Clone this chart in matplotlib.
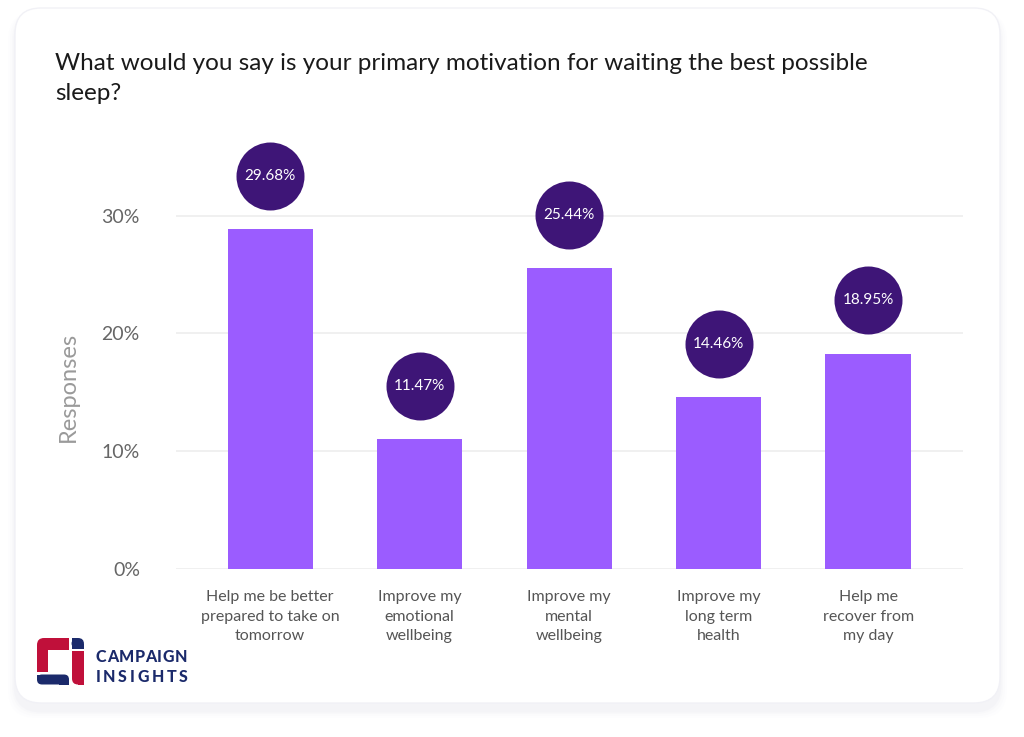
import matplotlib
matplotlib.use("Agg")
import matplotlib.pyplot as plt
import numpy as np
from matplotlib.patches import FancyBboxPatch, Rectangle
from matplotlib.transforms import ScaledTranslation

# ---------------- data ----------------
categories = [
    "Help me be better\nprepared to take on\ntomorrow",
    "Improve my\nemotional\nwellbeing",
    "Improve my\nmental\nwellbeing",
    "Improve my\nlong term\nhealth",
    "Help me\nrecover from\nmy day",
]
bar_values = [28.84, 11.03, 25.55, 14.60, 18.29]       # bar heights as drawn (%)
value_labels = ["29.68%", "11.47%", "25.44%", "14.46%", "18.95%"]
yticks = [0, 10, 20, 30]
ytick_labels = ["0%", "10%", "20%", "30%"]
title = "What would you say is your primary motivation for waiting the best possible\nsleep?"
ylabel = "Responses"

# ---------------- style ----------------
BAR = "#9B5CFF"
BUBBLE = "#3E1577"
FONT = "Lato"
W, H = 1024, 737
DPI = 100

fig = plt.figure(figsize=(W / DPI, H / DPI), dpi=DPI)
fig.patch.set_facecolor("white")

# background / card / logo layer in pixel coordinates
bg = fig.add_axes([0, 0, 1, 1], zorder=0)
bg.set_xlim(0, W)
bg.set_ylim(H, 0)
bg.axis("off")

# soft shadow
for grow, alpha in [(14, 0.025), (10, 0.035), (6, 0.05), (3, 0.07)]:
    bg.add_patch(FancyBboxPatch((15 - grow / 2, 12), 985 + grow, 699 + grow / 2,
                                boxstyle="round,pad=0,rounding_size=28",
                                facecolor="#C8C8DC", edgecolor="none", alpha=alpha))
bg.add_patch(FancyBboxPatch((15, 8), 985, 695,
                            boxstyle="round,pad=0,rounding_size=26",
                            facecolor="white", edgecolor="#F1F1F6", linewidth=1))

# logo
RED = "#C0103A"
NAVY = "#1B2A6B"
def rbox(x, y, w, h, c, r=6):
    bg.add_patch(FancyBboxPatch((x, y), w, h, boxstyle=f"round,pad=0,rounding_size={r}",
                                facecolor=c, edgecolor="none", linewidth=0))
def rect(x, y, w, h, c):
    bg.add_patch(Rectangle((x, y), w, h, facecolor=c, edgecolor="none", linewidth=0))

rbox(37, 638, 32, 34, RED, 7)
rect(37, 652, 10.5, 20, RED)
rect(55, 638, 14, 11.5, RED)
rect(47.5, 649.5, 22, 23, "white")
rbox(37, 674.5, 32, 10, NAVY, 5)
rect(37, 674.5, 10, 5, NAVY)
rect(59, 679.5, 10, 5, NAVY)
rbox(71.5, 638, 12.5, 11, NAVY, 6)
rect(71.5, 638, 6, 11, NAVY)
rect(71.5, 643.5, 12.5, 5.5, NAVY)
rbox(72, 651, 12, 33.5, RED, 6)
rect(72, 651, 12, 20, RED)
rect(78, 665, 6, 19.5, RED)

# letter-spaced logo words, spread between x0 and x1 using real glyph widths
renderer = fig.canvas.get_renderer()
for word, ycen in [("CAMPAIGN", 657), ("INSIGHTS", 676.5)]:
    x0, x1 = 95.5, 187.5
    glyphs = [bg.text(0, ycen, ch, ha="left", va="center", fontsize=11.5,
                      fontweight="black", color=NAVY, family=FONT) for ch in word]
    widths = [g.get_window_extent(renderer).width for g in glyphs]
    gap = (x1 - x0 - sum(widths)) / (len(word) - 1)
    xc = x0
    for g, wdt in zip(glyphs, widths):
        g.set_x(xc)
        xc += wdt + gap

# title
fig.text(55 / W, 1 - 53 / H, title, ha="left", va="top", fontsize=17.5,
         color="#1A1A1A", family=FONT, linespacing=1.55)

# ---------------- main axes ----------------
ax_left, ax_right = 176, 963
y0_px, per10 = 569.3, 117.9
ymax = 33
ax_top = y0_px - ymax * per10 / 10
ax = fig.add_axes([ax_left / W, 1 - y0_px / H, (ax_right - ax_left) / W, (y0_px - ax_top) / H],
                  zorder=2)
ax.patch.set_alpha(0)
x = np.arange(len(categories))
ax.set_xlim(-0.63, len(categories) - 1 + 0.635)
ax.set_ylim(0, ymax)

for t in yticks:
    ax.axhline(t, color="#EFEFEF", linewidth=1.3, zorder=0)

ax.bar(x, bar_values, width=0.57, color=BAR, zorder=2)

off = ScaledTranslation(0, 53.5 / DPI, fig.dpi_scale_trans)
trans = ax.transData + off
ax.scatter(x, bar_values, s=(68 * 72 / DPI) ** 2, color=BUBBLE, transform=trans,
           zorder=3, clip_on=False, linewidths=0)
for xi, v, lab in zip(x, bar_values, value_labels):
    ax.text(xi, v, lab, transform=trans, ha="center", va="center", color="white",
            fontsize=11, family=FONT, zorder=4, clip_on=False)

ax.set_yticks(yticks)
ax.set_yticklabels(ytick_labels, fontsize=14, color="#666666", family=FONT)
ax.set_xticks(x)
ax.set_xticklabels(categories, fontsize=11.5, color="#555555", family=FONT,
                   linespacing=1.5)
ax.tick_params(axis="y", length=0, pad=26)
ax.tick_params(axis="x", length=0, pad=15)
for s in ax.spines.values():
    s.set_visible(False)

ax.set_ylabel(ylabel, fontsize=17, color="#9A9A9A", family=FONT)
ax.yaxis.set_label_coords((79 - ax_left) / (ax_right - ax_left), (y0_px - 386.5) / (y0_px - ax_top))

fig.savefig("out.png", dpi=DPI, facecolor="white")
